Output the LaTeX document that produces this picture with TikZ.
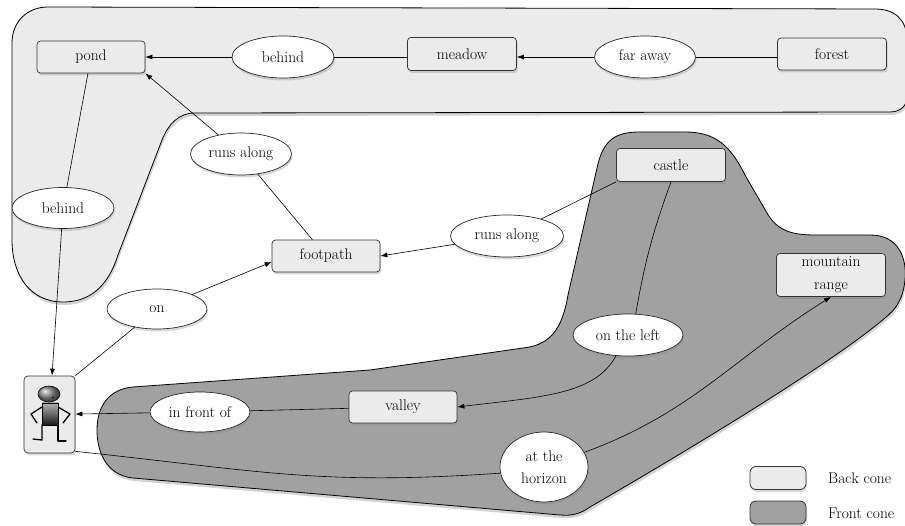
\documentclass[tikz,border=0pt]{standalone}
\usetikzlibrary{shapes.geometric,arrows.meta,shadows}
\definecolor{backc}{gray}{0.92}
\definecolor{frontc}{gray}{0.63}
\begin{document}
\begin{tikzpicture}[x=1pt,y=1pt,
  lab/.style={font=\fontsize{15.5}{22}\selectfont},
  shad/.style={drop shadow={shadow xshift=1pt,shadow yshift=-2.5pt,opacity=0.3}},
  box/.style={lab,shad,draw=black!80,line width=0.7pt,fill=backc,rounded corners=3.5pt,
    minimum width=108pt,minimum height=32pt,inner sep=0pt,align=center},
  oval/.style={lab,shad,ellipse,draw=black!85,line width=0.7pt,fill=white,
    minimum width=101pt,minimum height=42pt,inner sep=0pt,align=center},
  link/.style={line width=0.6pt,black},
  arr/.style={link,-{Latex[length=7pt,width=5pt]}},
  cone/.style={draw=black,line width=0.8pt,drop shadow={shadow xshift=1pt,shadow yshift=-3pt,opacity=0.35}},
  legbox/.style={shad,draw=black!80,line width=0.8pt,rounded corners=6pt,minimum width=56pt,minimum height=23pt,inner sep=0pt},
  figline/.style={line width=1.3pt,black,line cap=round,line join=round}
]
\clip (0,0) rectangle (905,525);
% back cone
\path[cone,fill=backc] (12,285) -- (12,482) .. controls (12,503) and (27,518) .. (48,518)
  -- (875,516) .. controls (895,516) and (907,505) .. (907,485) -- (907,428)
  .. controls (907,419) and (900,413) .. (890,413) -- (195,412)
  .. controls (178,412) and (168,400) .. (162,385) -- (118,270)
  .. controls (110,245) and (95,223) .. (63,223) .. controls (30,223) and (12,250) .. (12,285) -- cycle;
% front cone
\path[cone,fill=frontc] (133,138) -- (370,155) -- (523,177) .. controls (550,180) and (562,195) .. (568,230)
  -- (597,357) .. controls (603,385) and (615,393) .. (640,393) -- (685,393)
  .. controls (715,393) and (730,380) .. (745,350) -- (767,312)
  .. controls (777,295) and (790,290) .. (815,290) -- (870,290)
  .. controls (900,290) and (907,265) .. (905,245) .. controls (903,225) and (895,215) .. (885,207)
  .. controls (830,160) and (680,70) .. (590,18) .. controls (580,11) and (572,9) .. (560,10)
  -- (133,47) .. controls (105,50) and (97,75) .. (97,95) .. controls (97,120) and (110,136) .. (133,138) -- cycle;

% nodes
\node[box] (pond) at (91,468) {pond};
\node[oval,minimum width=102pt] (beh1) at (283,468) {behind};
\node[box,minimum width=109pt,minimum height=33pt] (meadow) at (462,471) {meadow};
\node[oval] (far) at (645,468) {far away};
\node[box,minimum width=109pt] (forest) at (832,471) {forest};
\node[oval] (ra1) at (241,371) {runs along};
\node[oval,minimum width=102pt,minimum height=41pt] (beh2) at (63,317) {behind};
\node[box] (footpath) at (326,269) {footpath};
\node[oval,minimum width=100pt,minimum height=40pt] (on) at (157,216) {on};
\node[oval,minimum width=113pt] (ra2) at (507,289) {runs along};
\node[box,minimum width=109pt,minimum height=33pt] (castle) at (671,360) {castle};
\node[box,minimum width=109pt,minimum height=43pt] (mountain) at (831,250) {mountain\\[1pt]range};
\node[oval,minimum width=110pt] (otl) at (628,190) {on the left};
\node[box] (valley) at (403,118) {valley};
\node[oval,minimum width=100pt,minimum height=40pt] (front) at (200,113) {in front of};
\node[oval,minimum width=88pt,minimum height=70pt] (horizon) at (544,58) {at the\\horizon};
\node[shad,draw=black!80,line width=0.7pt,fill=backc,rounded corners=4pt,minimum width=51pt,minimum height=77pt,inner sep=0pt] (person) at (49.5,110.5) {};

% person figure
\draw[figline] (42,118) -- (31,111) -- (37,102);
\draw[figline] (58,118) -- (70,111) -- (63,102);
\draw[figline] (42,100) -- (42,85) -- (33,86);
\draw[figline] (58,100) -- (58,84) -- (66,84);
\shade[top color=black!30,bottom color=black!90,draw=black,line width=0.6pt] (42,100) rectangle (58,122);
\shade[ball color=black!45,draw=black,line width=0.6pt] (49,131) ellipse [x radius=11,y radius=8];
\fill[black] (53,127.5) circle (0.9);

% edges
\draw[arr] (beh1) -- (pond);
\draw[link] (beh1) -- (meadow.west |- beh1);
\draw[arr] (far) -- (meadow.east |- far);
\draw[link] (far) -- (forest.west |- far);
\draw[link] (pond) -- (beh2);
\draw[arr] (beh2) -- (person);
\draw[link] (footpath) -- (ra1);
\draw[arr] (ra1) -- (pond.south east);
\draw[link] (person.north east) -- (on);
\draw[arr] (on) -- ([yshift=-6pt]footpath.west);
\draw[link] (castle.south west) -- (ra2);
\draw[arr] (ra2) -- (footpath.east);
\draw[link] (castle.south) to[bend right=5] (otl.70);
\draw[arr] (otl.240) .. controls (595,130) and (540,128) .. (valley.east);
\draw[link] (valley) -- (front);
\draw[arr] (front) -- (person);
\draw[link] ([yshift=2pt]person.south east) to[out=-6,in=184,looseness=1.1] (horizon.188);
\draw[arr] (horizon.20) to[out=20,in=212] (mountain.south);

% legend
\node[legbox,fill=backc] (kb) at (778,47) {};
\node[legbox,fill=frontc] (kf) at (778,12.5) {};
\node[lab,anchor=west,inner sep=0pt] (lb) at (828,47) {Back cone};
\node[lab,anchor=west,inner sep=0pt] (lf) at (828,12) {Front cone};
\end{tikzpicture}
\end{document}
